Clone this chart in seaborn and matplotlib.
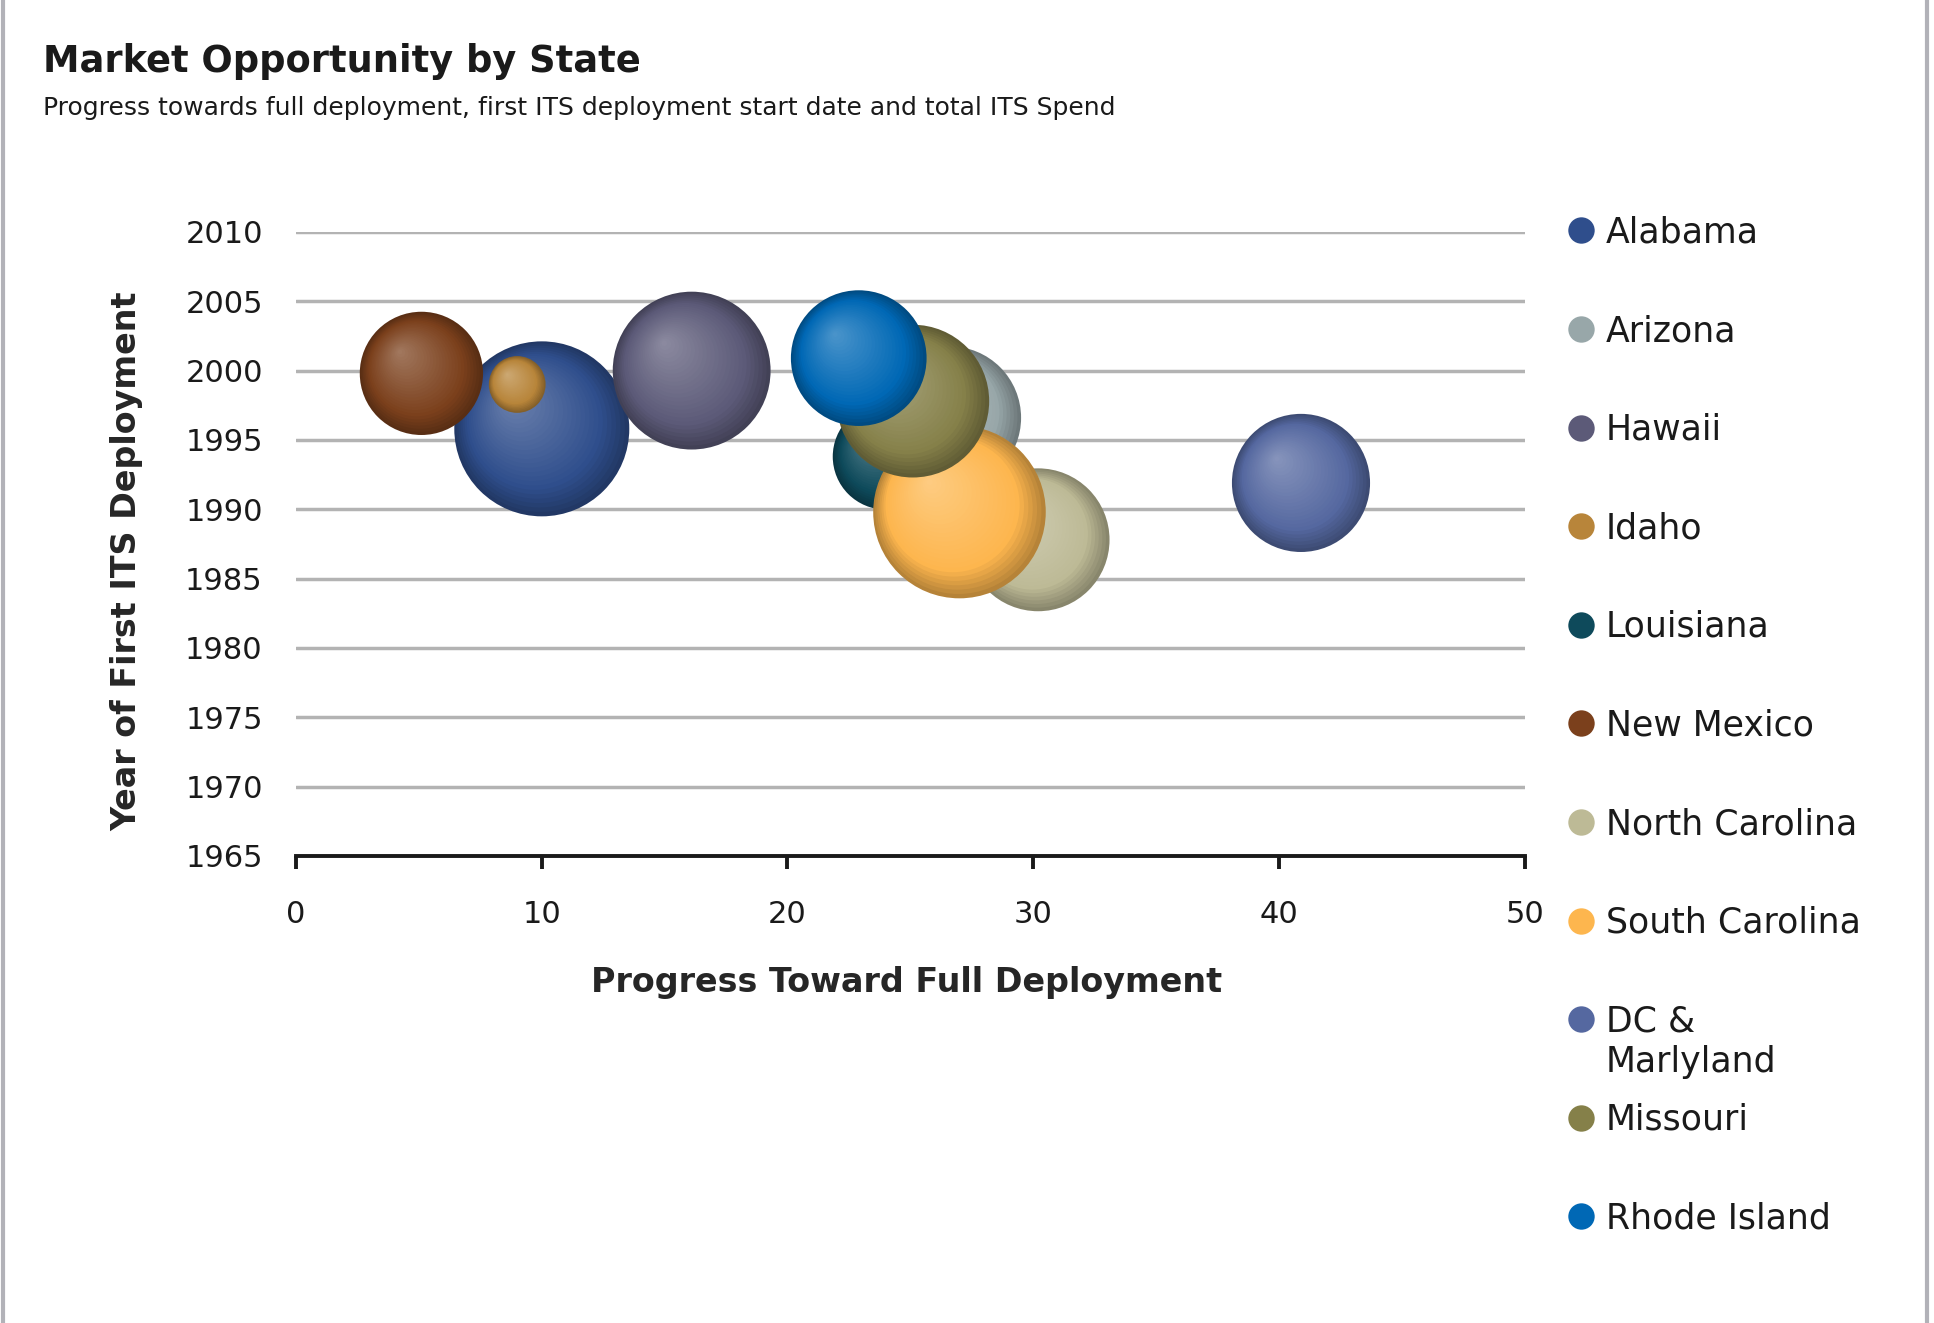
import numpy as np
import pandas as pd
import matplotlib
matplotlib.use('Agg')
import matplotlib.pyplot as plt
import seaborn as sns
from matplotlib import transforms
from matplotlib.lines import Line2D
from matplotlib.colors import to_rgb

# data (series order = drawing order)
states = ["Alabama", "Arizona", "Hawaii", "Idaho", "Louisiana", "New Mexico",
          "North Carolina", "South Carolina", "DC & Marlyland", "Missouri", "Rhode Island"]
progress = [10.0, 26.6, 16.1, 9.0, 24.0, 5.1, 30.2, 27.0, 40.9, 25.1, 22.9]
first_year = [1995.8, 1996.6, 2000.0, 1999.0, 1993.8, 1999.8, 1987.8, 1989.8, 1991.9, 1997.8, 2000.9]
its_spend = [50.4, 33.6, 41.0, 5.3, 18.5, 25.0, 33.6, 49.0, 31.4, 38.4, 30.3]
colors = ["#2F4E8C", "#98A7A9", "#5C5A78", "#B8853A", "#0E4A5B", "#7B401C",
          "#BDBA96", "#FDB64E", "#5568A0", "#858049", "#0068B5"]

df = pd.DataFrame({"state": states, "progress": progress,
                   "year": first_year, "spend": its_spend, "color": colors})

sns.set_theme(style="white")
plt.rcParams['font.family'] = ['DejaVu Sans']
plt.rcParams['text.color'] = '#1a1a1a'

fig = plt.figure(figsize=(19.34, 13.23), dpi=100)
ax = fig.add_axes([0.1531, 0.3530, 0.6352, 0.4717])

AREA = 315.0  # marker area (pt^2) per unit of spend
N_LAYERS = 26

for i, row in df.iterrows():
    base = np.array(to_rgb(row["color"]))
    dark = base * 0.72
    light = base + (1 - base) * 0.30
    s0 = row["spend"] * AREA
    r_pt = np.sqrt(s0) / 2
    z = 3 + i
    sns.scatterplot(x=[row["progress"]], y=[row["year"]], s=s0, color=dark,
                    edgecolor="none", linewidth=0, ax=ax, zorder=z, legend=False)
    for k in range(1, N_LAYERS + 1):
        f = 1 - k / (N_LAYERS + 1)
        if f > 0.78:
            c = dark + (base - dark) * (1 - f) / 0.22
        else:
            c = base + (light - base) * (0.78 - f) / 0.78
        off = (1 - f) * 0.36 * r_pt
        tr = transforms.offset_copy(ax.transData, fig=fig, x=-off, y=off, units='points')
        ax.scatter([row["progress"]], [row["year"]], s=s0 * f * f, color=np.clip(c, 0, 1),
                   edgecolors="none", linewidths=0, transform=tr, zorder=z + k / 100)

ax.set_xlim(0, 50)
ax.set_ylim(1965, 2010)
ax.set_xticks(range(0, 51, 10))
ax.set_yticks(range(1965, 2011, 5))

for side in ["top", "right", "left"]:
    ax.spines[side].set_visible(False)
ax.spines["bottom"].set_color("#1a1a1a")
ax.spines["bottom"].set_linewidth(2.8)
ax.spines["bottom"].set_zorder(20)

ax.yaxis.grid(True, color="#B3B3B3", linewidth=2.5)
ax.xaxis.grid(False)
ax.set_axisbelow(True)

ax.tick_params(axis="x", bottom=True, direction="out", length=9.5, width=2.8,
               color="#1a1a1a", pad=22, labelsize=22, labelcolor="#1a1a1a")
ax.tick_params(axis="y", left=False, length=0, pad=24, labelsize=22, labelcolor="#1a1a1a")

ax.set_xlabel("Progress Toward Full Deployment", fontsize=24, fontweight="bold", va="center")
ax.set_ylabel("Year of First ITS Deployment", fontsize=24, fontweight="bold", va="center")
ax.xaxis.set_label_coords(0.497, -0.202)
ax.yaxis.set_label_coords(-0.1376, 0.473)

fig.text(43 / 1934, 1 - 62 / 1323, "Market Opportunity by State",
         fontsize=26.5, fontweight="bold", va="center", ha="left")
fig.text(43 / 1934, 1 - 108 / 1323,
         "Progress towards full deployment, first ITS deployment start date and total ITS Spend",
         fontsize=18, va="center", ha="left")

handles = [Line2D([0], [0], marker="o", linestyle="none", markersize=19,
                  markerfacecolor=c, markeredgecolor="none") for c in colors]
labels = [s if s != "DC & Marlyland" else "DC &" for s in states]
leg = fig.legend(handles, labels, loc="upper left", bbox_to_anchor=(0.809, 0.837),
                 frameon=False, fontsize=25, labelspacing=1.86, handlelength=0.96,
                 handletextpad=0.22, borderaxespad=0, borderpad=0)

fig.canvas.draw()
dc_text = leg.get_texts()[states.index("DC & Marlyland")]
bb = dc_text.get_window_extent()
fig.text(bb.x0 / fig.bbox.width, (bb.y0 - 7) / fig.bbox.height, "Marlyland",
         fontsize=25, va="top", ha="left")

# thin grey frame edges left and right
fig.add_artist(Line2D([0.0015, 0.0015], [0, 1], transform=fig.transFigure,
                      color="#B2B2B8", linewidth=3))
fig.add_artist(Line2D([0.9965, 0.9965], [0, 1], transform=fig.transFigure,
                      color="#B2B2B8", linewidth=3))

fig.savefig("out.png", dpi=100)
